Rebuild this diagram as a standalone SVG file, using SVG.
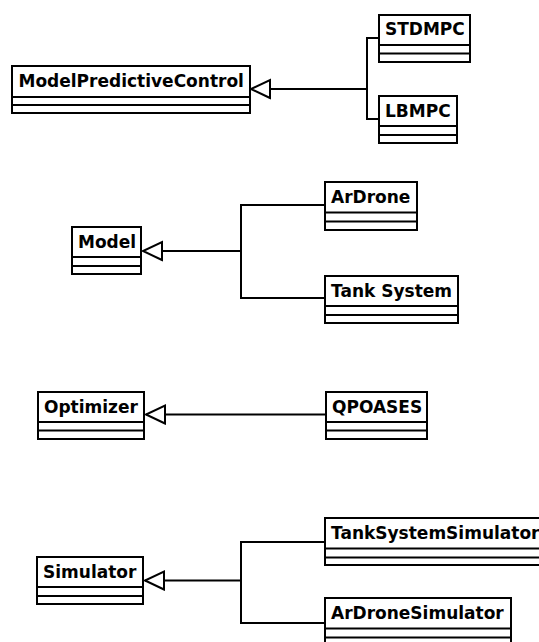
<svg xmlns="http://www.w3.org/2000/svg" width="539" height="642" viewBox="0 0 539 642">
<style>
.box{fill:#fff;stroke:#000;stroke-width:2}
.div{stroke:#000;stroke-width:2;fill:none}
.lbl{font-family:"DejaVu Sans","Liberation Sans",sans-serif;font-weight:bold;font-size:17px;fill:#000}
.edge{fill:none;stroke:#000;stroke-width:2}
.gen{fill:none;stroke:#000;stroke-width:2;marker-end:url(#tri)}
</style>
<defs>
<marker id="tri" markerUnits="userSpaceOnUse" markerWidth="22" markerHeight="22" refX="19" refY="10" orient="auto" overflow="visible">
<path d="M0,1 L19,10 L0,19 Z" fill="#fff" stroke="#000" stroke-width="2"/>
</marker>
</defs>
<rect width="539" height="642" fill="#fff"/>
<g id="connectors">
<path class="edge" d="M379,38 H367 V119 H379"/>
<path class="gen" d="M367,89 H251"/>
<path class="edge" d="M325,205 H241 V298 H325"/>
<path class="gen" d="M241,251 H143"/>
<path class="gen" d="M326,414.5 H146"/>
<path class="edge" d="M325,542 H241 V623 H325"/>
<path class="gen" d="M241,580.5 H145"/>
</g>
<g id="ModelPredictiveControl">
<rect class="box" x="12" y="66" width="238" height="47"/>
<path class="div" d="M12,97 H250 M12,105 H250"/>
<text class="lbl" x="18.5" y="87">ModelPredictiveControl</text>
</g>
<g id="STDMPC">
<rect class="box" x="379" y="15" width="91" height="47"/>
<path class="div" d="M379,45 H470 M379,53.5 H470"/>
<text class="lbl" x="385" y="35">STDMPC</text>
</g>
<g id="LBMPC">
<rect class="box" x="379" y="96" width="78" height="47"/>
<path class="div" d="M379,126 H457 M379,135 H457"/>
<text class="lbl" x="385" y="116.5">LBMPC</text>
</g>
<g id="Model">
<rect class="box" x="72" y="227" width="69" height="47"/>
<path class="div" d="M72,257 H141 M72,266 H141"/>
<text class="lbl" x="78" y="248">Model</text>
</g>
<g id="ArDrone">
<rect class="box" x="325" y="182" width="92" height="48"/>
<path class="div" d="M325,212.5 H417 M325,221.5 H417"/>
<text class="lbl" x="331" y="203">ArDrone</text>
</g>
<g id="TankSystem">
<rect class="box" x="325" y="276" width="133" height="47"/>
<path class="div" d="M325,306 H458 M325,315 H458"/>
<text class="lbl" x="331" y="297">Tank System</text>
</g>
<g id="Optimizer">
<rect class="box" x="38" y="392" width="106" height="47"/>
<path class="div" d="M38,422 H144 M38,430.5 H144"/>
<text class="lbl" x="44" y="413">Optimizer</text>
</g>
<g id="QPOASES">
<rect class="box" x="326" y="392" width="101" height="47"/>
<path class="div" d="M326,422 H427 M326,430.5 H427"/>
<text class="lbl" x="332" y="413">QPOASES</text>
</g>
<g id="Simulator">
<rect class="box" x="37" y="557" width="106" height="47"/>
<path class="div" d="M37,587 H143 M37,596 H143"/>
<text class="lbl" x="43" y="578">Simulator</text>
</g>
<g id="TankSystemSimulator">
<rect class="box" x="325" y="518" width="222" height="47"/>
<path class="div" d="M325,548.5 H547 M325,557.5 H547"/>
<text class="lbl" x="331" y="539">TankSystemSimulator</text>
</g>
<g id="ArDroneSimulator">
<rect class="box" x="325" y="598" width="186" height="47"/>
<path class="div" d="M325,628.5 H511 M325,637.5 H511"/>
<text class="lbl" x="331" y="619">ArDroneSimulator</text>
</g>
</svg>
